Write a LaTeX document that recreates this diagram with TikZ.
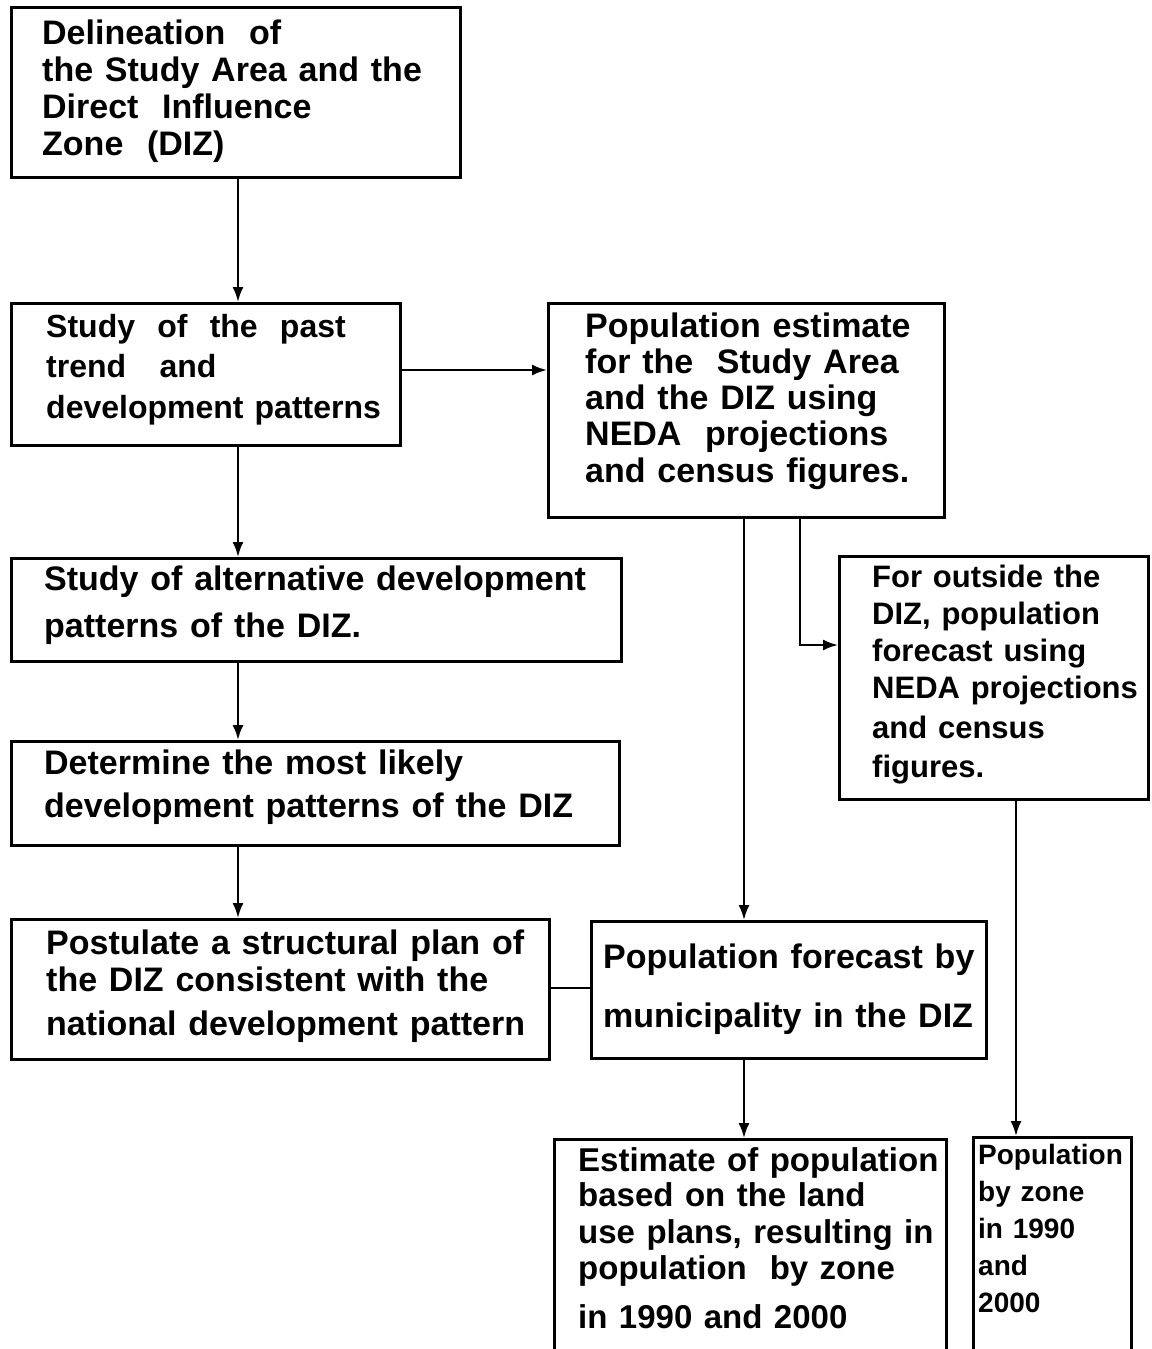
\documentclass[tikz,border=0pt]{standalone}
\usepackage{fontspec}
\setmainfont{Liberation Sans}[WordSpace=1.25]
\usetikzlibrary{arrows.meta}
\begin{document}
\begin{tikzpicture}[x=1pt,y=-1pt,
  box/.style={draw,line width=2.8pt,inner sep=0pt,anchor=north west},
  txt/.style={anchor=north west,inner sep=0pt,align=left,font=\bfseries\fontsize{34}{37}\selectfont},
  midtxt/.style={txt,font=\bfseries\fontsize{32}{37}\selectfont},
  smalltxt/.style={txt,font=\bfseries\fontsize{31}{37}\selectfont},
  tinytxt/.style={txt,font=\bfseries\fontsize{28}{37}\selectfont},
  arr/.style={line width=2.2pt,-{Latex[length=15pt,width=11pt]}},
  ln/.style={line width=2.2pt}]
\useasboundingbox (0,0) rectangle (1151,1349);
\clip (0,0) rectangle (1151,1349);
\fill[white] (0,0) rectangle (1151,1349);

% guide coordinates
\coordinate (x238) at (238,0);
\coordinate (x744) at (744,0);
\coordinate (x800) at (800,0);
\coordinate (x1016) at (1016,0);
\coordinate (y370) at (0,370);
\coordinate (y645) at (0,645);
\coordinate (y988) at (0,988);

% boxes
\node[box,minimum width=449pt,minimum height=170pt] (b1) at (10,6) {};
\node[box,minimum width=389pt,minimum height=142pt] (b2) at (10,302) {};
\node[box,minimum width=396pt,minimum height=214pt] (b3) at (547,302) {};
\node[box,minimum width=610pt,minimum height=103pt] (b4) at (10,557) {};
\node[box,minimum width=309pt,minimum height=243pt] (b5) at (838,555) {};
\node[box,minimum width=608pt,minimum height=104pt] (b6) at (10,740) {};
\node[box,minimum width=538pt,minimum height=140pt] (b7) at (10,918) {};
\node[box,minimum width=395pt,minimum height=137pt] (b8) at (590,920) {};
\node[box,minimum width=392pt,minimum height=260pt] (b9) at (553,1138) {};
\node[box,minimum width=158pt,minimum height=260pt] (b10) at (972,1136) {};

% texts
\node[txt] (t1) at (42,20) {Delineation\ \ of\\the Study Area and the\\Direct\ \ Influence\\Zone\ \ (DIZ)};
\node[midtxt] (t2) at (46,314) {Study\ \ of\ \ the\ \ past\\[3pt]trend\ \ \ and\\[4pt]development patterns};
\node[txt] (t3) at (585,313) {Population estimate\\[-1pt]for the\ \ Study Area\\[-1pt]and the DIZ using\\[-1pt]NEDA\ \ projections\\[0pt]and census figures.};
\node[txt] (t4) at (44,566) {Study of alternative development\\[10pt]patterns of the DIZ.};
\node[smalltxt] (t5) at (872,565) {For outside the\\DIZ, population\\forecast using\\NEDA projections\\[3pt]and census\\[2pt]figures.};
\node[txt] (t6) at (44,750) {Determine the most likely\\[6pt]development patterns of the DIZ};
\node[txt] (t7) at (46,930) {Postulate a structural plan of\\the DIZ consistent with the\\[7pt]national development pattern};
\node[txt] (t8) at (603,944) {Population forecast by\\[22pt]municipality in the DIZ};
\node[txt,font=\bfseries\fontsize{33}{37}\selectfont] (t9) at (578,1147) {Estimate of population\\[-2pt]based on the land\\use plans, resulting in\\[-1pt]population\ \ by zone\\[12pt]in 1990 and 2000};
\node[tinytxt] (t10) at (978,1144) {Population\\by zone\\in 1990\\and\\2000};

% connectors
\draw[arr] (b1.south -| x238) -- (b2.north -| x238);
\draw[arr] (b2.east |- y370) -- (b3.west |- y370);
\draw[arr] (b2.south -| x238) -- (b4.north -| x238);
\draw[arr] (b4.south -| x238) -- (b6.north -| x238);
\draw[arr] (b6.south -| x238) -- (b7.north -| x238);
\draw[arr] (b3.south -| x744) -- (b8.north -| x744);
\draw[arr] (b3.south -| x800) |- (b5.west |- y645);
\draw[arr] (b5.south -| x1016) -- (b10.north -| x1016);
\draw[arr] (b8.south -| x744) -- (b9.north -| x744);
\draw[ln] (b7.east |- y988) -- (b8.west |- y988);
\end{tikzpicture}
\end{document}
